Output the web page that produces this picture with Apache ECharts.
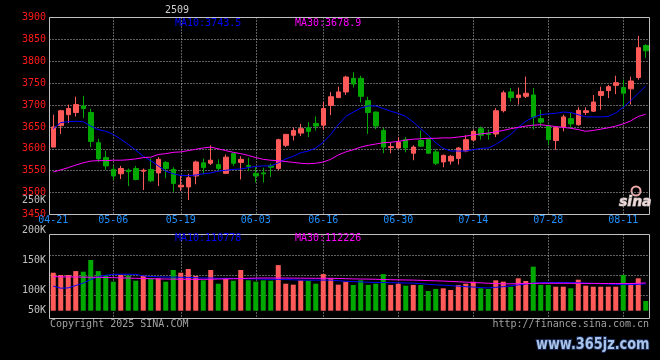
<!DOCTYPE html>
<html><head><meta charset="utf-8">
<script src="https://cdn.jsdelivr.net/npm/echarts@6/dist/echarts.min.js"></script>
<style>html,body{margin:0;padding:0;background:#000;}#c{width:660px;height:360px;}</style>
</head><body><div id="c"></div>
<script>
const contractName = '2509';
const dates = ['04-21','04-22','04-23','04-24','04-25','04-28','04-29','04-30',
'05-06','05-07','05-08','05-09','05-12','05-13','05-14','05-15','05-16','05-19','05-20','05-21','05-22','05-23','05-26','05-27','05-28','05-29','05-30',
'06-03','06-04','06-05','06-06','06-09','06-10','06-11','06-12','06-13','06-16','06-17','06-18','06-19','06-20','06-23','06-24','06-25','06-26','06-27','06-30',
'07-01','07-02','07-03','07-04','07-07','07-08','07-09','07-10','07-11','07-14','07-15','07-16','07-17','07-18','07-21','07-22','07-23','07-24','07-25','07-28','07-29','07-30','07-31',
'08-01','08-04','08-05','08-06','08-07','08-08','08-11','08-12','08-13','08-14'];
const xTickLabels = ['04-21','05-06','05-19','06-03','06-16','06-30','07-14','07-28','08-11'];

const opens = [3604,3653,3678,3683,3698,3683,3614,3580,3553,3543, 3551,3555,3549,3553,3545,3569,3553,3513,3513,3538, 3568,3567,3564,3544,3589,3569,3562,3544,3545,3561, 3555,3608,3631,3636,3648,3658,3654,3699,3717,3730, 3761,3761,3710,3684,3642,3603,3602,3621,3590,3619, 3621,3593,3570,3572,3578,3595,3620,3646,3635,3634, 3687,3730,3717,3720,3723,3669,3652,3619,3650,3669, 3655,3683,3686,3722,3733,3745,3740,3737,3763,3836];
const closes = [3650,3687,3692,3701,3692,3617,3577,3561,3538,3555, 3548,3530,3551,3527,3576,3555,3521,3517,3534,3570, 3557,3574,3555,3581,3567,3576,3560,3538,3543,3558, 3621,3633,3642,3646,3640,3652,3692,3719,3730,3764, 3748,3720,3683,3652,3604,3605,3615,3602,3604,3606, 3590,3567,3585,3583,3602,3621,3640,3631,3633,3687, 3728,3717,3723,3727,3672,3661,3621,3648,3673,3657, 3688,3687,3707,3731,3742,3751,3727,3755,3831,3824];
const lows = [3604,3634,3659,3674,3670,3604,3570,3552,3529,3531, 3515,3528,3506,3524,3515,3533,3502,3504,3483,3519, 3542,3563,3549,3543,3561,3530,3549,3523,3523,3536, 3551,3604,3619,3629,3627,3642,3644,3677,3716,3723, 3740,3706,3634,3645,3590,3590,3600,3592,3574,3604, 3589,3563,3558,3564,3564,3592,3617,3621,3621,3627, 3683,3708,3701,3716,3644,3650,3608,3598,3640,3648, 3653,3677,3684,3689,3716,3725,3695,3701,3758,3808];
const highs = [3678,3689,3701,3719,3721,3691,3623,3596,3561,3561, 3555,3561,3555,3578,3581,3572,3558,3538,3543,3573, 3578,3608,3576,3587,3590,3583,3580,3558,3557,3566, 3623,3634,3649,3657,3661,3674,3707,3730,3742,3767, 3775,3767,3719,3685,3648,3614,3627,3627,3608,3642, 3623,3599,3587,3586,3604,3631,3644,3651,3644,3693, 3733,3739,3740,3765,3739,3689,3655,3652,3678,3682, 3695,3695,3723,3742,3746,3767,3758,3765,3858,3839];

const ma10 = [3646,3660,3662,3663,3662,3652,3644,3640,3633,3622, 3610,3597,3583,3573,3561,3549,3543,3539,3539,3540, 3543,3545,3549,3551,3553,3554,3557,3560,3561,3561, 3568,3577,3583,3591,3595,3602,3615,3633,3655,3674, 3684,3693,3698,3698,3692,3686,3681,3674,3661,3646, 3631,3614,3601,3595,3595,3595,3598,3601,3602,3610, 3621,3633,3649,3663,3672,3678,3680,3681,3684,3683, 3678,3673,3673,3673,3674,3682,3695,3710,3727,3743.5];
const ma30 = [3547,3552,3557,3563,3568,3572,3573,3573,3574,3574, 3575,3577,3580,3581,3587,3589,3592,3593,3596,3599, 3602,3604,3600,3596,3592,3589,3585,3580,3576,3574, 3573,3571,3569,3567,3566,3567,3570,3576,3586,3593, 3598,3604,3608,3611,3614,3615,3617,3620,3622,3623, 3624,3624,3625,3625,3627,3629,3632,3634,3636,3639, 3642,3646,3649,3652,3654,3655,3653,3651,3649,3647, 3644,3640,3642,3645,3648,3652,3657,3664,3674,3678.9];

const volumes = [129300,125500,125500,132000,131000,150500,132000,125500,114400,125500, 124400,116000,124400,120000,120000,114400,133800,129300,135500,124000, 116600,133800,111000,120000,116000,133800,116600,114400,116600,116000, 142000,111000,109400,116600,116000,111000,127000,120000,109400,114400, 108800,116600,109000,111000,127000,109000,111000,107700,109000,108800, 98800,102200,103300,100500,108800,111000,114400,103300,102200,116600, 114400,106000,120000,115500,139400,109000,109000,106000,106000,103300, 117700,107700,106000,106000,106000,106000,125500,111700,120000,82200];
const volMa10 = [107000,103500,104000,108000,112000,118000,123000,125000,126500,126700, 126700,126500,124000,123000,122500,122000,122000,121700,121500,121000, 120500,120500,120000,120000,120000,119500,119000,119000,118500,118300, 118300,118000,117500,117000,117000,117000,117000,117000,116000,115000, 114500,114000,113500,113000,113000,112700,112500,112200,112000,111000, 110000,109200,108500,107800,107000,106000,105500,104500,104000,105000, 106000,107500,109000,110500,112000,112700,113000,113000,113000,112800, 112500,112000,111500,111000,110500,110000,109500,109500,110000,110778];
const volMa30 = [122700,122500,122300,122200,122000,121800,121700,121300,121000,120700, 120400,120000,119700,119400,119000,118800,118600,118500,118400,118300, 118300,118500,118800,119000,119300,119600,120000,120300,120500,120500, 120500,120400,120300,120200,120100,120000,120000,120000,119700,119400, 119000,118800,118600,118300,118000,117700,117400,117200,117000,116600, 116200,115800,115400,114800,114200,113600,113000,112400,111800,111200, 110800,110800,111000,111300,111600,111700,111700,111700,111700,111700, 111600,111500,111500,111400,111300,111200,111100,111300,111800,112226];

const priceMin = 3450, priceMax = 3900, priceStep = 50;
const volLabelMin = 50000, volLabelMax = 250000, volLabelStep = 50000;

const FONT = '"DejaVu Sans Mono","Liberation Mono",monospace';
const UP = '#ff5a5a', DOWN = '#00a800';
const GL = 49.5, GW = 600;
const dotted = {color:'#c0c0c0', width:1, type:[1,2]};
const last = dates.length - 1;

const labelIdx = new Set(xTickLabels.map(l => dates.indexOf(l)));
const splitIdx = new Set(xTickLabels.slice(1).map(l => dates.indexOf(l)));
const candleData = dates.map((d, i) => [opens[i], closes[i], lows[i], highs[i]]);
const volData = volumes.map((v, i) => ({value: v, itemStyle: {color: closes[i] >= opens[i] ? UP : DOWN}}));

const chart = echarts.init(document.getElementById('c'), null, {renderer:'canvas'});
const hiddenX = gi => ({type:'category', gridIndex:gi, data:dates, show:false});
const vSplit = {show:true, alignWithLabel:true, interval:(i) => splitIdx.has(i), lineStyle:dotted};
const lineS = (data, color, xi, yi) => ({type:'line', xAxisIndex:xi, yAxisIndex:yi, data, symbol:'none', showSymbol:false, silent:true, lineStyle:{color, width:1}, z:3});

chart.setOption({
  backgroundColor:'#000',
  animation:false,
  grid:[
    {left:GL, top:17.5, width:GW, height:197, show:true, borderColor:'#c0c0c0', borderWidth:1, backgroundColor:'transparent'},
    {left:GL, top:234.5, width:GW, height:84, show:true, borderColor:'#c0c0c0', borderWidth:1, backgroundColor:'transparent'},
    {left:GL, top:255, width:GW, height:40},
    {left:GL, top:234.5, width:GW, height:76.2},
    {left:GL, top:200, width:GW, height:120}
  ],
  xAxis:[
    {type:'category', gridIndex:0, data:dates, boundaryGap:true,
      axisLine:{show:false}, axisTick:{show:false},
      axisLabel:{interval:(i) => labelIdx.has(i), color:'#1e90ff', fontFamily:FONT, fontSize:10, margin:1},
      splitLine:vSplit},
    {type:'category', gridIndex:1, data:dates, boundaryGap:true,
      axisLine:{show:false}, axisTick:{show:false}, axisLabel:{show:false}, splitLine:vSplit},
    hiddenX(2), hiddenX(3), hiddenX(4)
  ],
  yAxis:[
    {type:'value', gridIndex:0, min:priceMin, max:priceMax, interval:priceStep,
      axisLine:{show:false}, axisTick:{show:false},
      axisLabel:{color:'#ff1a1a', fontFamily:FONT, fontSize:10, margin:3.5, showMinLabel:true, showMaxLabel:true,
        formatter:(v) => String(v)},
      splitLine:{show:true, lineStyle:dotted}},
    {type:'value', gridIndex:1, show:false},
    {type:'value', gridIndex:2, min:0, max:40, interval:20,
      axisLine:{show:false}, axisTick:{show:false}, axisLabel:{show:false},
      splitLine:{show:true, lineStyle:dotted}},
    {type:'value', gridIndex:3, min:66000, max:193000, show:false},
    {type:'value', gridIndex:4, min:volLabelMin, max:volLabelMax, interval:volLabelStep,
      axisLine:{show:false}, axisTick:{show:false}, splitLine:{show:false},
      axisLabel:{color:'#c0c0c0', fontFamily:FONT, fontSize:10, margin:3.5, showMinLabel:true, showMaxLabel:true,
        formatter:(v) => v === volLabelMin ? '{lo|' + (v/1000) + 'K}' : (v/1000) + 'K',
        rich:{lo:{color:'#c0c0c0', fontFamily:FONT, fontSize:10, padding:[0,0,20,0]}}}}
  ],
  series:[
    {type:'candlestick', xAxisIndex:0, yAxisIndex:0, data:candleData, barWidth:5, silent:true,
      itemStyle:{color:UP, color0:DOWN, borderColor:UP, borderColor0:DOWN, borderWidth:1}},
    lineS(ma10, '#0000ff', 0, 0),
    lineS(ma30, '#ff00ff', 0, 0),
    {type:'bar', xAxisIndex:3, yAxisIndex:3, data:volData, barWidth:5, silent:true},
    lineS(volMa10, '#0000ff', 3, 3),
    lineS(volMa30, '#ff00ff', 3, 3)
  ],
  graphic:[
    {type:'text', x:165, y:10, style:{text:contractName, fill:'#d0d0d0', font:'10px ' + FONT, textVerticalAlign:'middle'}},
    {type:'text', x:175, y:23.5, style:{text:'MA10:' + ma10[last].toFixed(1), fill:'#0000ff', font:'10px ' + FONT, textVerticalAlign:'middle'}},
    {type:'text', x:295, y:23.5, style:{text:'MA30:' + ma30[last].toFixed(1), fill:'#ff00ff', font:'10px ' + FONT, textVerticalAlign:'middle'}},
    {type:'text', x:175, y:238.5, style:{text:'MA10:' + volMa10[last], fill:'#0000ff', font:'10px ' + FONT, textVerticalAlign:'middle'}},
    {type:'text', x:295, y:238.5, style:{text:'MA30:' + volMa30[last], fill:'#ff00ff', font:'10px ' + FONT, textVerticalAlign:'middle'}},
    {type:'text', x:50, y:324, style:{text:'Copyright 2025 SINA.COM', fill:'#a0a0a0', font:'10px ' + FONT, textVerticalAlign:'middle'}},
    {type:'text', x:649, y:324, style:{text:'http://finance.sina.com.cn', fill:'#a0a0a0', font:'10px ' + FONT, textAlign:'right', textVerticalAlign:'middle'}},
    {type:'circle', shape:{cx:636, cy:191, r:4.5}, style:{fill:'none', stroke:'#e8a8a8', lineWidth:2}},
    {type:'text', x:619, y:202, style:{text:'sina', fill:'#eed8d8', stroke:'#909090', lineWidth:1, font:'italic bold 14px "DejaVu Sans"', textVerticalAlign:'middle'}},
    {type:'text', x:536, y:345, scaleX:0.86, style:{text:'www.365jz.com', fill:'#a8c4e8', stroke:'#1a2a55', lineWidth:2, font:'bold 15px "DejaVu Sans"', textVerticalAlign:'middle'}}
  ]
});
</script>
</body></html>
